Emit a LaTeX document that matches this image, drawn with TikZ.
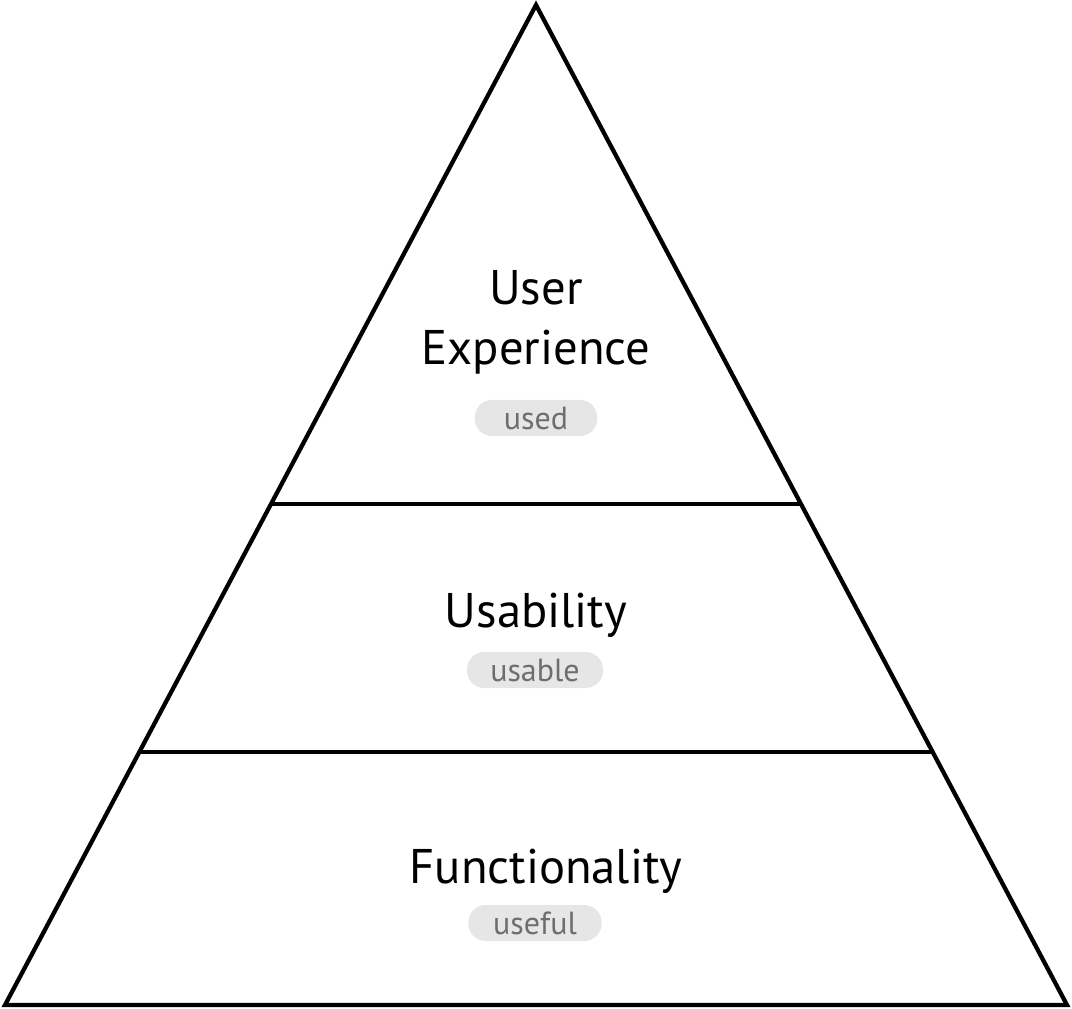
\documentclass[tikz,border=0pt]{standalone}
\usepackage{fontspec}
\setmainfont{PT Sans}
\usetikzlibrary{calc}
\definecolor{pillgray}{HTML}{E6E6E6}
\definecolor{tagtext}{HTML}{6E6E6E}
\newcommand{\splitA}{0.499}
\newcommand{\splitB}{0.747}

\begin{document}
\begin{tikzpicture}[x=0.75pt, y=-0.75pt,
    layer/.style={font=\fontsize{36.5}{45}\selectfont, align=center, text=black},
    tag/.style={fill=pillgray, rounded corners=13pt, text=tagtext,
        font=\fontsize{24}{28}\selectfont, minimum height=27pt, inner xsep=0pt, inner ysep=0pt}]
\useasboundingbox (0,0) rectangle (1072,1009);

\coordinate (top) at (536,5);
\coordinate (left) at (5,1005);
\coordinate (right) at (1067,1005);
\draw[line width=3.2pt, line join=miter] (top) -- (left) -- (right) -- cycle;

\coordinate (L1) at ($(top)!\splitA!(left)$);
\coordinate (R1) at ($(top)!\splitA!(right)$);
\coordinate (L2) at ($(top)!\splitB!(left)$);
\coordinate (R2) at ($(top)!\splitB!(right)$);
\draw[line width=2.6pt] (L1) -- (R1);
\draw[line width=2.6pt] (L2) -- (R2);

\node[layer] (ux) at (536,322) {User\\Experience};
\node[tag, minimum width=92pt] (used) at (536,418) {used};

\node[layer] (usab) at (536,615) {Usability};
\node[tag, minimum width=102pt] (usable) at (535,670) {usable};

\node[layer] (func) at (546,871) {Functionality};
\node[tag, minimum width=100pt] (useful) at (535,923) {useful};

\end{tikzpicture}
\end{document}
